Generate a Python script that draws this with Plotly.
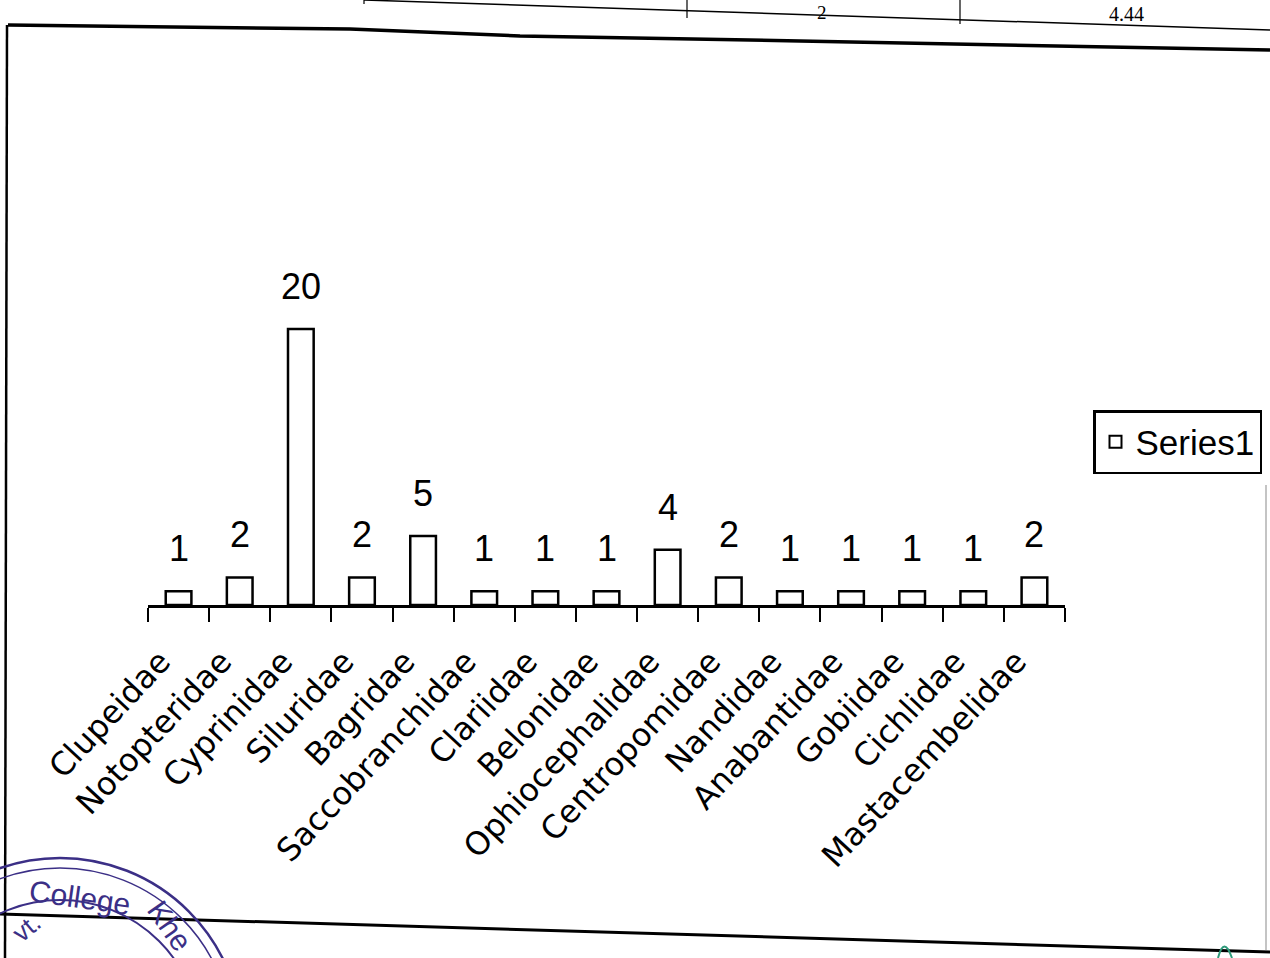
import plotly.graph_objects as go

W, H = 1270, 958

families = ["Clupeidae", "Notopteridae", "Cyprinidae", "Siluridae", "Bagridae",
            "Saccobranchidae", "Clariidae", "Belonidae", "Ophiocephalidae",
            "Centropomidae", "Nandidae", "Anabantidae", "Gobiidae", "Cichlidae",
            "Mastacembelidae"]
species_count = [1, 2, 20, 2, 5, 1, 1, 1, 4, 2, 1, 1, 1, 1, 2]
series_name = "Series1"


def px(x):
    return x / W


def py(y):
    return 1 - y / H


value_font = "Liberation Sans, Arial, sans-serif"

fig = go.Figure()
fig.add_trace(go.Bar(
    x=families, y=species_count, name=series_name,
    marker=dict(color="white", line=dict(color="black", width=2.5)),
    width=0.42, showlegend=True,
))

# value labels above each bar
for fam, v in zip(families, species_count):
    fig.add_annotation(x=fam, y=v, xref="x", yref="y", text=str(v),
                       showarrow=False, xanchor="center", yanchor="bottom", yshift=20,
                       font=dict(family=value_font, size=36, color="black"))

shapes = []
# page frame lines of the printed sheet
shapes.append(dict(type="path", xref="paper", yref="paper",
                   path=f"M{px(8)},{py(25)} L{px(350)},{py(29)} L{px(520)},{py(36)} "
                        f"L{px(800)},{py(41)} L{px(1270)},{py(50)}",
                   line=dict(color="black", width=3.5)))
shapes.append(dict(type="line", xref="paper", yref="paper",
                   x0=px(7), y0=py(25), x1=px(5), y1=py(958),
                   line=dict(color="black", width=2.5)))
shapes.append(dict(type="line", xref="paper", yref="paper",
                   x0=px(0), y0=py(914), x1=px(1270), y1=py(952),
                   line=dict(color="black", width=3)))
shapes.append(dict(type="line", xref="paper", yref="paper",
                   x0=px(1266), y0=py(485), x1=px(1266), y1=py(950),
                   line=dict(color="#b0b0b0", width=1.5)))
# fragment of the table above
shapes.append(dict(type="line", xref="paper", yref="paper",
                   x0=px(364), y0=py(0), x1=px(1270), y1=py(30),
                   line=dict(color="black", width=1.5)))
for xv, yb in [(364, 4), (687, 18), (960, 24)]:
    shapes.append(dict(type="line", xref="paper", yref="paper",
                       x0=px(xv), y0=py(0), x1=px(xv), y1=py(yb),
                       line=dict(color="black", width=1.2)))
# round office stamp
stamp = "#3b2f86"
for r, w in [(182, 2.5), (172, 1.5), (140, 2)]:
    shapes.append(dict(type="circle", xref="paper", yref="paper",
                       x0=px(60 - r), y0=py(1040 - r), x1=px(60 + r), y1=py(1040 + r),
                       line=dict(color=stamp, width=w)))
# small marks at bottom right
shapes.append(dict(type="path", xref="paper", yref="paper",
                   path=f"M{px(1218)},{py(958)} Q{px(1224)},{py(935)} {px(1232)},{py(958)}",
                   line=dict(color="#2e9a7a", width=2)))

fig.update_layout(shapes=shapes)

fig.add_annotation(x=px(822), y=py(12), xref="paper", yref="paper", text="2",
                   showarrow=False, xanchor="center", yanchor="middle",
                   font=dict(family="Liberation Serif", size=19, color="black"))
fig.add_annotation(x=px(1126), y=py(14), xref="paper", yref="paper", text="4.44",
                   showarrow=False, xanchor="center", yanchor="middle",
                   font=dict(family="Liberation Serif", size=20, color="black"))
fig.add_annotation(x=px(26), y=py(928), xref="paper", yref="paper", text="vt.",
                   showarrow=False, xanchor="center", yanchor="middle", textangle=-40,
                   font=dict(family="Liberation Sans", size=26, color=stamp))
fig.add_annotation(x=px(80), y=py(897), xref="paper", yref="paper", text="College",
                   showarrow=False, xanchor="center", yanchor="middle", textangle=8,
                   font=dict(family="Liberation Sans", size=30, color=stamp))
fig.add_annotation(x=px(170), y=py(925), xref="paper", yref="paper", text="Khe",
                   showarrow=False, xanchor="center", yanchor="middle", textangle=55,
                   font=dict(family="Liberation Sans", size=30, color=stamp))

fig.update_layout(
    width=W, height=H,
    margin=dict(l=0, r=0, t=0, b=0, autoexpand=False),
    paper_bgcolor="white", plot_bgcolor="rgba(0,0,0,0)",
    xaxis=dict(
        domain=[px(148), px(1065)],
        type="category",
        showline=True, linecolor="black", linewidth=2.5,
        ticks="outside", tickson="boundaries", ticklen=14, tickwidth=2, tickcolor="black",
        tickangle=-47,
        ticklabelstandoff=22, ticklabelshift=-18,
        tickfont=dict(family="DejaVu Sans", size=32, color="black"),
        showgrid=False, zeroline=False, automargin=False,
    ),
    yaxis=dict(
        domain=[py(605), py(191)],
        range=[0, 30], visible=False, automargin=False,
    ),
    legend=dict(
        x=px(1262), y=py(410), xanchor="right", yanchor="top",
        bordercolor="black", borderwidth=2.5, bgcolor="white",
        font=dict(family=value_font, size=35, color="black"),
        itemsizing="constant",
    ),
)

fig.write_html("out.html")
